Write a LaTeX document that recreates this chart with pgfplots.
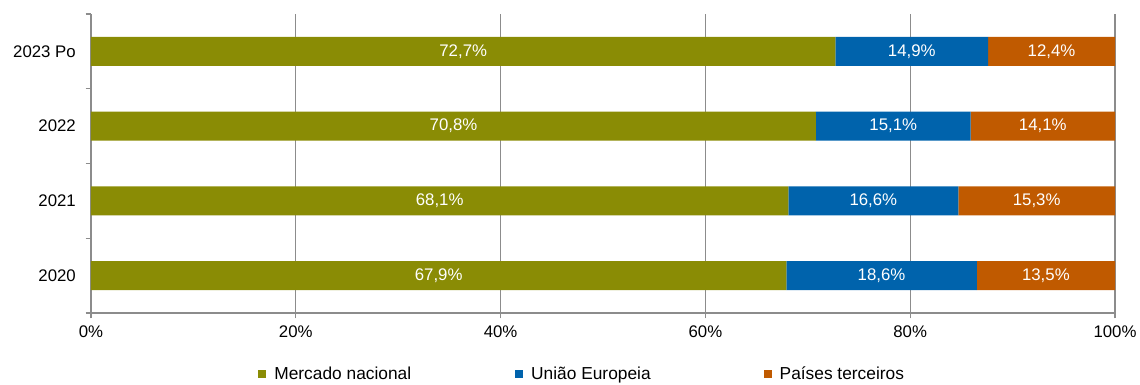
\documentclass[border=0pt]{standalone}
\usepackage{pgfplots}
\pgfplotsset{compat=1.18}
\usepackage{fontspec}
\setmainfont{Liberation Sans}
\definecolor{cGreen}{RGB}{138,140,5}
\definecolor{cBlue}{RGB}{0,99,172}
\definecolor{cOrange}{RGB}{192,90,0}
\definecolor{cGrid}{RGB}{140,140,140}
\begin{document}
\fontsize{12.6pt}{15pt}\selectfont
\begin{tikzpicture}
\useasboundingbox (0,0) rectangle (855pt,288.75pt);
\begin{axis}[
  at={(68.25pt,54pt)}, anchor=south west,
  scale only axis, width=768pt, height=224.25pt,
  xbar stacked, bar width=21.75pt,
  xmin=0, xmax=100, ymin=-0.5, ymax=3.5,
  axis x line*=bottom, axis y line*=left,
  axis line style={cGrid, line width=1pt},
  xtick={0,20,40,60,80,100},
  xticklabel={\pgfmathprintnumber{\tick}\%},
  /pgf/number format/assume math mode=true,
  ytick={0,1,2,3},
  yticklabels={2020,2021,2022,2023 Po},
  minor ytick={-0.5,0.5,1.5,2.5,3.5},
  tick align=outside,
  major tick length=4pt,
  y tick style={draw=none},
  minor y tick style={draw=cGrid, line width=1pt},
  minor tick length=4pt,
  x tick style={cGrid, line width=1pt},
  xmajorgrids, major grid style={cGrid, line width=1pt},
  tick label style={black},
  xticklabel style={yshift=-1pt},
  yticklabel style={xshift=-3pt},
  visualization depends on={rawx \as \rawxval},
  nodes near coords={\pgfmathprintnumber[fixed,precision=1,fixed zerofill,use comma]{\rawxval}\%},
  every node near coord/.append style={white, anchor=center},
  legend columns=3,
  legend style={at={(axis description cs:0.4800,-0.205)}, anchor=center, draw=none, fill=none,
    font=\fontsize{13pt}{15pt}\selectfont,
    /tikz/every even column/.append style={column sep=76pt}},
  legend image code/.code={\fill[#1] (0pt,-3pt) rectangle (6pt,3pt); \path (10pt,0pt);},
]
\addplot[fill=cGreen, draw=none] coordinates {(67.9,0) (68.1,1) (70.8,2) (72.7,3)};
\addplot[fill=cBlue, draw=none] coordinates {(18.6,0) (16.6,1) (15.1,2) (14.9,3)};
\addplot[fill=cOrange, draw=none,
  legend image code/.code={\path (-6.75pt,0pt); \fill[cOrange] (0pt,-3pt) rectangle (6pt,3pt); \path (10pt,0pt);}]
  coordinates {(13.5,0) (15.3,1) (14.1,2) (12.4,3)};
\legend{Mercado nacional, União Europeia, Países terceiros}
\end{axis}
\end{tikzpicture}
\end{document}
